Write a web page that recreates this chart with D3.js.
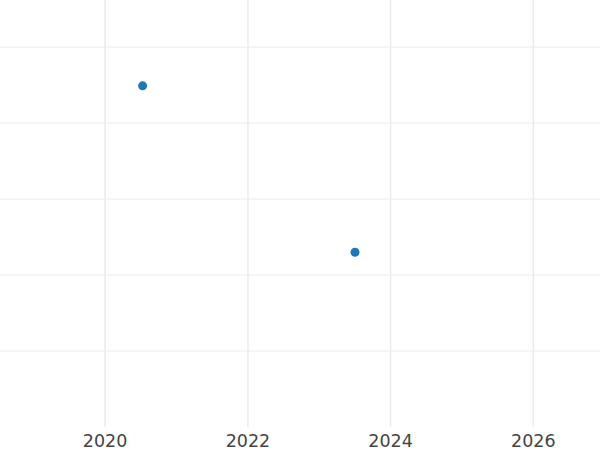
<!DOCTYPE html>
<html><head><meta charset="utf-8">
<script src="https://cdn.jsdelivr.net/npm/d3@7"></script>
<style>body{margin:0;background:#fff}svg{display:block}</style>
</head><body><svg id="c" width="600" height="450"></svg>
<script>
const dates = ["2020-07-11", "2023-07-03"];
const values = [4.49, 2.30];
const xTicks = ["2020", "2022", "2024", "2026"];
const yTicks = [1, 2, 3, 4, 5];
const xDomain = ["2018-07-12", "2026-12-08"];
const yDomain = [0, 5.62];

const W = 600, H = 450, plotBottom = 427;
const parse = d3.timeParse("%Y-%m-%d");
const svg = d3.select("#c");
const x = d3.scaleTime().domain(xDomain.map(parse)).range([0, W]);
const y = d3.scaleLinear().domain(yDomain).range([plotBottom, 0]);

svg.append("g").selectAll("line").data(yTicks).join("line")
  .attr("x1", 0).attr("x2", W)
  .attr("y1", d => y(d)).attr("y2", d => y(d))
  .attr("stroke", "#ebebeb").attr("stroke-width", 1);

const xt = xTicks.map(t => d3.timeParse("%Y")(t));
svg.append("g").selectAll("line").data(xt).join("line")
  .attr("x1", d => x(d)).attr("x2", d => x(d))
  .attr("y1", 0).attr("y2", plotBottom)
  .attr("stroke", "#ebebeb").attr("stroke-width", 1.5);

svg.append("g").selectAll("text").data(xt).join("text")
  .attr("x", d => x(d)).attr("y", 446.5)
  .attr("text-anchor", "middle")
  .attr("font-family", "DejaVu Sans")
  .attr("font-size", 17.5)
  .attr("fill", "#444")
  .text((d, i) => xTicks[i]);

svg.append("g").selectAll("circle").data(dates).join("circle")
  .attr("cx", d => x(parse(d)))
  .attr("cy", (d, i) => y(values[i]))
  .attr("r", 4.5)
  .attr("fill", "#1f77b4");
</script></body></html>
